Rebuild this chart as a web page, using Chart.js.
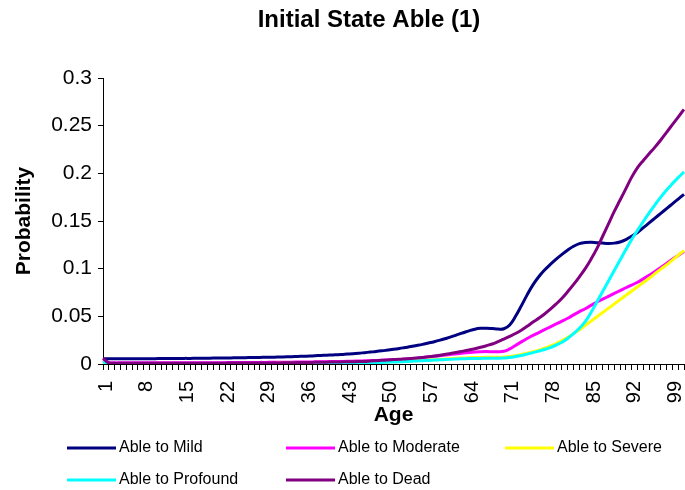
<!DOCTYPE html>
<html>
<head>
<meta charset="utf-8">
<script src="https://cdn.jsdelivr.net/npm/chart.js@4"></script>
<style>
    body { margin: 0; background: #fff; }
    #wrap { width: 685px; height: 490px; }
</style>
</head>
<body>
<div id="wrap"><canvas id="chart"></canvas></div>
<script>
const TITLE = 'Initial State Able (1)';

// ages 1..101 on the category axis, labelled every 7 years
const ages = [];
for (let a = 1; a <= 101; a++) ages.push(a);
const labelEvery = 7;

const yTicks = [0, 0.05, 0.1, 0.15, 0.2, 0.25, 0.3];

const mild = [
    0.0055, 0.0055, 0.0055, 0.0055, 0.0055, 0.0055, 0.0055, 0.0056, 0.0056, 0.0056,
    0.0057, 0.0057, 0.0058, 0.0058, 0.0059, 0.0059, 0.006, 0.006, 0.0061, 0.0062,
    0.0062, 0.0063, 0.0064, 0.0065, 0.0066, 0.0067, 0.0068, 0.0069, 0.007, 0.0071,
    0.0073, 0.0074, 0.0076, 0.0078, 0.008, 0.0082, 0.0085, 0.0088, 0.0091, 0.0094,
    0.0097, 0.01, 0.0104, 0.0108, 0.0113, 0.0119, 0.0125, 0.0131, 0.0138, 0.0146,
    0.0154, 0.0163, 0.0173, 0.0183, 0.0194, 0.0206, 0.022, 0.0234, 0.025, 0.0268,
    0.0287, 0.0308, 0.0328, 0.0348, 0.0365, 0.0374, 0.0376, 0.0372, 0.0366, 0.037,
    0.041, 0.05, 0.061, 0.0725, 0.083, 0.0915, 0.0985, 0.1045, 0.11, 0.115,
    0.1196, 0.1235, 0.1262, 0.1275, 0.1278, 0.1273, 0.1268, 0.1265, 0.1268, 0.128,
    0.1305, 0.134, 0.138, 0.143, 0.148, 0.153, 0.158, 0.163, 0.168, 0.173, 0.178
];

const moderate = [
    0.004, 0.0015, 0.0012, 0.0012, 0.0012, 0.0012, 0.0012, 0.0012, 0.0012, 0.0012,
    0.0012, 0.0012, 0.0012, 0.0012, 0.0012, 0.0013, 0.0013, 0.0013, 0.0013, 0.0014,
    0.0014, 0.0014, 0.0015, 0.0015, 0.0015, 0.0016, 0.0016, 0.0017, 0.0017, 0.0018,
    0.0018, 0.0019, 0.0019, 0.002, 0.002, 0.0021, 0.0022, 0.0023, 0.0024, 0.0025,
    0.0026, 0.0027, 0.0028, 0.003, 0.0031, 0.0033, 0.0035, 0.0037, 0.0039, 0.0042,
    0.0045, 0.0048, 0.0052, 0.0056, 0.0061, 0.0067, 0.0073, 0.008, 0.0087, 0.0094,
    0.0101, 0.0108, 0.0115, 0.0121, 0.0126, 0.0129, 0.013, 0.0129, 0.0128, 0.0133,
    0.0158, 0.0195, 0.0232, 0.0267, 0.03, 0.033, 0.036, 0.039, 0.042, 0.045,
    0.048, 0.0515, 0.055, 0.058, 0.0615, 0.065, 0.068, 0.071, 0.074, 0.077,
    0.08, 0.0828, 0.0858, 0.0893, 0.093, 0.097, 0.1013, 0.1055, 0.1098, 0.1139, 0.118
];

const severe = [
    0.0015, 0.0005, 0.0005, 0.0005, 0.0005, 0.0005, 0.0005, 0.0005, 0.0005, 0.0005,
    0.0005, 0.0005, 0.0005, 0.0005, 0.0005, 0.0005, 0.0005, 0.0005, 0.0005, 0.0005,
    0.0005, 0.0005, 0.0005, 0.0006, 0.0006, 0.0006, 0.0006, 0.0006, 0.0006, 0.0006,
    0.0007, 0.0007, 0.0007, 0.0007, 0.0007, 0.0007, 0.0008, 0.0008, 0.0008, 0.0008,
    0.0009, 0.001, 0.0011, 0.0012, 0.0013, 0.0014, 0.0016, 0.0018, 0.002, 0.0022,
    0.0024, 0.0026, 0.0029, 0.0032, 0.0035, 0.0038, 0.0041, 0.0044, 0.0048, 0.0052,
    0.0056, 0.006, 0.0063, 0.0066, 0.0068, 0.0069, 0.007, 0.007, 0.007, 0.0072,
    0.0078, 0.0088, 0.01, 0.0113, 0.0128, 0.0145, 0.0165, 0.019, 0.0215, 0.0245,
    0.028, 0.032, 0.036, 0.0405, 0.045, 0.0495, 0.054, 0.0585, 0.063, 0.0675,
    0.072, 0.0765, 0.081, 0.0855, 0.09, 0.0948, 0.0995, 0.104, 0.109, 0.114, 0.119
];

const profound = [
    0.0022, 0.0004, 0.0004, 0.0004, 0.0004, 0.0004, 0.0004, 0.0004, 0.0004, 0.0004,
    0.0004, 0.0004, 0.0004, 0.0004, 0.0004, 0.0005, 0.0005, 0.0005, 0.0005, 0.0005,
    0.0005, 0.0005, 0.0005, 0.0005, 0.0005, 0.0005, 0.0005, 0.0005, 0.0006, 0.0006,
    0.0006, 0.0006, 0.0006, 0.0006, 0.0006, 0.0006, 0.0007, 0.0007, 0.0007, 0.0007,
    0.0008, 0.0009, 0.001, 0.0011, 0.0012, 0.0013, 0.0014, 0.0015, 0.0017, 0.0019,
    0.0021, 0.0023, 0.0026, 0.0029, 0.0032, 0.0035, 0.0038, 0.0041, 0.0044, 0.0047,
    0.005, 0.0053, 0.0055, 0.0057, 0.0058, 0.0059, 0.006, 0.006, 0.006, 0.0062,
    0.0068, 0.0078, 0.009, 0.0104, 0.0119, 0.0135, 0.0152, 0.0172, 0.0198, 0.0228,
    0.027, 0.032, 0.0375, 0.0445, 0.054, 0.065, 0.076, 0.087, 0.098, 0.109,
    0.12, 0.1305, 0.1402, 0.1495, 0.1585, 0.167, 0.175, 0.1825, 0.1892, 0.1955, 0.2015
];

const dead = [
    0.006, 0.0012, 0.0008, 0.0008, 0.0008, 0.0008, 0.0008, 0.0008, 0.0008, 0.0008,
    0.0008, 0.0008, 0.0008, 0.0008, 0.0008, 0.0009, 0.0009, 0.0009, 0.0009, 0.0009,
    0.0009, 0.0009, 0.001, 0.001, 0.001, 0.001, 0.001, 0.001, 0.001, 0.001,
    0.0011, 0.0012, 0.0013, 0.0014, 0.0015, 0.0016, 0.0017, 0.0018, 0.0019, 0.002,
    0.0021, 0.0022, 0.0023, 0.0024, 0.0025, 0.0027, 0.0031, 0.0035, 0.0039, 0.0043,
    0.0046, 0.0049, 0.0053, 0.0057, 0.0062, 0.0068, 0.0075, 0.0083, 0.0092, 0.0102,
    0.0113, 0.0124, 0.0135, 0.0147, 0.016, 0.0175, 0.0192, 0.021, 0.0235, 0.0262,
    0.029, 0.032, 0.0355, 0.0395, 0.044, 0.048, 0.0525, 0.0575, 0.063, 0.069,
    0.076, 0.0835, 0.0915, 0.1, 0.11, 0.121, 0.134, 0.147, 0.16, 0.172,
    0.184, 0.196, 0.206, 0.2135, 0.2205, 0.2275, 0.235, 0.243, 0.251, 0.259, 0.267
];

const seriesNames = ['Able to Mild', 'Able to Moderate', 'Able to Severe', 'Able to Profound', 'Able to Dead'];
const seriesData = [mild, moderate, severe, profound, dead];
const seriesColors = ['#000080', '#FF00FF', '#FFFF00', '#00FFFF', '#800080'];

const FONT = 'Arial, "Liberation Sans", sans-serif';

// title and the 3-column legend grid, drawn like the Excel original
const decor = {
    id: 'decor',
    afterDraw(chart) {
        const ctx = chart.ctx;
        ctx.save();
        ctx.fillStyle = '#000';
        ctx.font = 'bold 24px ' + FONT;
        ctx.textAlign = 'center';
        ctx.textBaseline = 'middle';
        ctx.fillText(TITLE, 369, 20);

        const colX = [67, 286, 505];
        const rowY = [448, 480];
        ctx.font = '16px ' + FONT;
        ctx.textAlign = 'left';
        chart.data.datasets.forEach((ds, i) => {
            const x = colX[i % 3];
            const y = rowY[Math.floor(i / 3)];
            ctx.strokeStyle = ds.borderColor;
            ctx.lineWidth = 3;
            ctx.beginPath();
            ctx.moveTo(x, y);
            ctx.lineTo(x + 49, y);
            ctx.stroke();
            ctx.fillText(ds.label, x + 52, y);
        });
        ctx.restore();
    }
};

new Chart(document.getElementById('chart'), {
    type: 'line',
    data: {
        labels: ages,
        datasets: seriesNames.map((name, i) => ({
            label: name,
            data: seriesData[i],
            borderColor: seriesColors[i],
            backgroundColor: seriesColors[i],
            borderWidth: 3,
            pointRadius: 0,
            tension: 0.4,
            fill: false,
            order: seriesNames.length - i
        }))
    },
    options: {
        responsive: true,
        maintainAspectRatio: false,
        animation: false,
        layout: { padding: { left: 8, right: 1, top: 78, bottom: 58 } },
        plugins: {
            legend: { display: false },
            title: { display: false },
            tooltip: { enabled: false }
        },
        scales: {
            x: {
                type: 'category',
                offset: false,
                grid: { drawOnChartArea: false, drawTicks: true, tickLength: 6, color: '#000' },
                border: { color: '#000', width: 1 },
                ticks: {
                    autoSkip: false,
                    minRotation: 90,
                    maxRotation: 90,
                    padding: 11,
                    labelOffset: 3,
                    color: '#000',
                    font: { family: FONT, size: 20 },
                    callback: (v, i) => (i % labelEvery === 0 ? String(ages[i]) : '')
                },
                title: {
                    display: true,
                    text: 'Age',
                    color: '#000',
                    font: { family: FONT, size: 21, weight: 'bold' },
                    padding: { top: 4, bottom: 4 }
                },
                afterFit(scale) {
                    scale.height = 68;
                    scale.paddingLeft = 0;
                    scale.paddingRight = 0;
                }
            },
            y: {
                min: 0,
                max: 0.3,
                afterBuildTicks(scale) {
                    scale.ticks = yTicks.map(v => ({ value: v }));
                },
                grid: { drawOnChartArea: false, drawTicks: true, tickLength: 5, color: '#000' },
                border: { color: '#000', width: 1 },
                ticks: {
                    padding: 6,
                    color: '#000',
                    font: { family: FONT, size: 21 },
                    callback: v => String(+v.toFixed(2))
                },
                title: {
                    display: true,
                    text: 'Probability',
                    color: '#000',
                    font: { family: FONT, size: 21, weight: 'bold' },
                    padding: { top: 4, bottom: 4 }
                },
                afterFit(scale) {
                    scale.width = 95;
                }
            }
        }
    },
    plugins: [decor]
});
</script>
</body>
</html>
